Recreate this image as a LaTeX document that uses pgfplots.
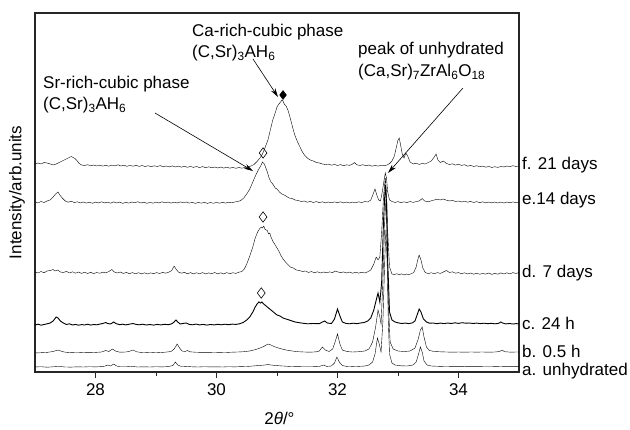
\documentclass[border=0pt]{standalone}
\usepackage{fontspec}
\setmainfont{Liberation Sans}
\usepackage{pgfplots}
\pgfplotsset{compat=1.18}
\usetikzlibrary{arrows.meta,calc}
\begin{document}
\fontsize{17bp}{21bp}\selectfont
\begin{tikzpicture}
\begin{axis}[
  width=484bp, height=359bp, scale only axis,
  xmin=27, xmax=35, ymin=0, ymax=359,
  xtick={28,30,32,34}, minor x tick num=1,
  ytick=\empty,
  xtick pos=bottom, tick align=outside,
  major tick length=6bp, minor tick length=3.5bp,
  axis line style={draw=black!85, line width=1.2bp},
  every tick/.style={black!85, line width=1bp},
  tick label style={font=\fontsize{17bp}{20bp}\selectfont},
  /pgf/number format/assume math mode=true,
  clip=false,
  xlabel={2\textit{θ}/°},
  ylabel={Intensity/arb.units},
  xlabel style={at={(axis description cs:0.505,-0.128)}, anchor=center, font=\fontsize{17bp}{20bp}\selectfont},
  ylabel style={at={(axis description cs:-0.037,0.5)}, anchor=center, font=\fontsize{17bp}{20bp}\selectfont},
  cycle list={{black, no markers, line width=0.9bp, line join=round}},
]
% a. unhydrated
\addplot coordinates {(27.0,5)(27.1,5.3)(27.2,4.8)(27.3,5.2)(27.4,5.6)(27.5,5)(27.6,4.9)(27.7,5.2)(27.8,5)(27.9,5.3)(28.0,5.1)(28.1,5.4)(28.15,5.8)(28.2,7)(28.25,6)(28.3,8)(28.35,6)(28.4,5.3)(28.5,5.2)(28.6,5.6)(28.7,5)(28.8,5.2)(28.9,5)(29.0,5.3)(29.1,5.1)(29.2,5.4)(29.28,6.5)(29.32,10)(29.36,7)(29.42,5.5)(29.5,5.6)(29.6,5.2)(29.7,5)(29.8,5.3)(29.9,5.1)(30.0,5.2)(30.1,5)(30.2,5.3)(30.3,5.1)(30.4,5.4)(30.5,5.5)(30.6,6)(30.7,6.5)(30.8,7)(30.85,7.5)(30.9,7)(31.0,6.4)(31.1,6)(31.2,5.6)(31.3,5.4)(31.4,5.3)(31.5,5.2)(31.6,5.3)(31.7,5.5)(31.77,7)(31.82,5.6)(31.9,6)(31.95,9)(31.99,15)(32.03,10)(32.08,6.5)(32.15,5.6)(32.25,5.4)(32.35,5.6)(32.45,6)(32.52,7)(32.58,10)(32.62,18)(32.66,34)(32.69,28)(32.72,20)(32.75,50)(32.78,110)(32.8,142)(32.82,110)(32.84,50)(32.86,18)(32.9,9)(32.95,7)(33.05,6.2)(33.15,6)(33.25,7)(33.3,10)(33.34,18)(33.37,25)(33.4,20)(33.43,11)(33.48,7)(33.55,6)(33.7,5.6)(33.9,5.4)(34.1,5.3)(34.3,5.4)(34.5,5.2)(34.7,5.5)(34.8,5.3)(35.0,5.4)};
% b. 0.5 h
\addplot coordinates {(27.0,19)(27.1,19.3)(27.2,19.6)(27.3,20.5)(27.38,22)(27.45,20.5)(27.5,19.8)(27.6,19.4)(27.7,19.2)(27.8,19.5)(27.9,19.3)(28.0,19.6)(28.1,20)(28.17,21.5)(28.22,20.5)(28.28,23)(28.33,21)(28.4,19.8)(28.5,20)(28.55,20.5)(28.62,22)(28.68,20.2)(28.75,19.6)(28.85,19.4)(28.95,19.6)(29.05,19.4)(29.15,19.8)(29.25,20.5)(29.3,23)(29.35,28)(29.39,24)(29.43,21)(29.48,20.5)(29.52,21.5)(29.56,20.2)(29.65,19.8)(29.75,19.6)(29.85,19.7)(29.95,19.5)(30.05,19.6)(30.15,19.5)(30.25,19.8)(30.35,20)(30.45,20.3)(30.55,21)(30.65,22.5)(30.72,24)(30.78,25.5)(30.85,28)(30.9,27)(30.95,25.5)(31.05,23.5)(31.15,22)(31.25,21)(31.35,20.3)(31.45,20)(31.55,19.8)(31.65,20.2)(31.7,21)(31.75,25)(31.8,22)(31.86,20.5)(31.92,23)(31.96,30)(32.0,38)(32.04,28)(32.08,22)(32.15,20.5)(32.25,20)(32.35,20.3)(32.45,21)(32.52,23)(32.58,30)(32.63,45)(32.67,62)(32.7,55)(32.72,48)(32.75,90)(32.78,150)(32.8,172)(32.82,140)(32.84,70)(32.87,30)(32.92,23)(33.0,21)(33.1,20.5)(33.2,21)(33.28,24)(33.33,32)(33.37,42)(33.4,45)(33.43,35)(33.47,25)(33.52,21.5)(33.6,20.5)(33.7,20.2)(33.8,20)(33.9,19.8)(34.0,20)(34.1,19.8)(34.2,20)(34.3,19.9)(34.4,20)(34.5,19.8)(34.6,20)(34.68,20.5)(34.72,22)(34.76,20.3)(34.85,19.9)(35.0,20)};
% c. 24 h
\addplot coordinates {(27.0,47)(27.05,47.8)(27.1,46.8)(27.15,47.5)(27.2,48.2)(27.25,49)(27.3,51)(27.35,55)(27.38,54)(27.42,51)(27.47,49)(27.52,47.5)(27.57,48.2)(27.62,47)(27.67,47.6)(27.72,46.8)(27.77,47.4)(27.82,47)(27.87,47.8)(27.92,46.9)(27.97,47.5)(28.02,47.2)(28.07,47.9)(28.12,48.5)(28.17,49.5)(28.2,48.5)(28.25,48)(28.3,50)(28.34,48.4)(28.4,47.3)(28.45,47.8)(28.5,47.1)(28.55,47.7)(28.62,48.5)(28.67,47.6)(28.72,47.2)(28.78,47.8)(28.84,47)(28.9,47.5)(28.96,46.9)(29.02,47.6)(29.08,47.1)(29.14,47.7)(29.2,47.3)(29.26,48.2)(29.3,50)(29.33,52)(29.36,50)(29.4,48)(29.45,48.6)(29.5,49)(29.55,47.6)(29.6,47.2)(29.66,47.9)(29.72,47.1)(29.78,47.6)(29.84,46.9)(29.9,47.5)(29.96,47.1)(30.02,47.7)(30.08,47.2)(30.14,47.8)(30.2,47.3)(30.26,47.9)(30.32,47.6)(30.38,48.2)(30.44,49.5)(30.5,52)(30.55,55)(30.6,60)(30.64,65)(30.67,68)(30.7,70)(30.73,69)(30.75,70)(30.78,68)(30.82,66)(30.86,64)(30.9,62)(30.95,59.5)(31.0,57)(31.05,56)(31.1,54)(31.15,53)(31.2,52)(31.25,51)(31.3,50)(31.4,49)(31.5,48.2)(31.6,48.5)(31.7,48.3)(31.75,50)(31.79,51)(31.83,49)(31.9,48.5)(31.95,53)(32.0,63)(32.04,56)(32.08,50)(32.14,48.6)(32.2,48.2)(32.26,48.8)(32.32,48.3)(32.38,49)(32.44,49.5)(32.5,51)(32.55,54)(32.6,62)(32.64,72)(32.67,79)(32.7,70)(32.73,90)(32.76,150)(32.79,187)(32.81,170)(32.83,110)(32.86,60)(32.9,52)(32.95,50)(33.0,49.2)(33.06,48.5)(33.12,48.9)(33.18,48.4)(33.24,49.2)(33.28,51)(33.31,56)(33.35,63)(33.38,60)(33.42,53)(33.47,50)(33.52,48.8)(33.58,49)(33.64,48.3)(33.7,48.9)(33.76,48.4)(33.82,49)(33.88,48.5)(33.94,49.2)(34.0,48.6)(34.06,49.3)(34.12,48.8)(34.18,49)(34.24,48.5)(34.3,48.9)(34.36,48.4)(34.42,48.8)(34.48,48.3)(34.54,48.7)(34.6,48.2)(34.66,48.6)(34.7,50)(34.73,49)(34.78,48.1)(34.84,48.5)(34.9,48)(34.96,48.4)(35.0,48)};
% d. 7 days
\addplot coordinates {(27.0,100)(27.05,99)(27.1,100.5)(27.15,99.2)(27.2,101)(27.25,101.5)(27.3,102.5)(27.33,101)(27.38,102)(27.42,100)(27.47,99.5)(27.52,100.6)(27.57,99)(27.62,100.2)(27.67,98.8)(27.72,100)(27.77,98.6)(27.82,99.8)(27.87,98.5)(27.92,99.7)(27.97,98.4)(28.02,99.5)(28.07,98.7)(28.12,99.9)(28.17,99.1)(28.22,100.5)(28.27,102.5)(28.31,100)(28.36,99)(28.41,100)(28.46,98.5)(28.51,99.6)(28.56,98.3)(28.61,99.4)(28.66,98.2)(28.71,99.3)(28.76,98.1)(28.81,99.2)(28.86,98)(28.91,99.1)(28.96,98.3)(29.01,99.4)(29.06,98.5)(29.11,99.6)(29.16,98.8)(29.21,99.8)(29.26,101.5)(29.3,106)(29.33,103)(29.37,100)(29.42,98.8)(29.47,99.7)(29.52,98.2)(29.57,99.4)(29.62,98)(29.67,99.3)(29.72,98.1)(29.77,99.4)(29.82,98)(29.87,99.1)(29.92,98.3)(29.97,99.5)(30.02,98.1)(30.07,99.2)(30.12,98)(30.17,99.4)(30.22,98.2)(30.27,99.3)(30.32,98.6)(30.37,99.8)(30.42,100.5)(30.46,103)(30.5,108)(30.55,116)(30.6,125)(30.64,134)(30.68,140)(30.71,143)(30.74,145)(30.76,144)(30.78,146)(30.8,143)(30.82,142)(30.84,141.5)(30.86,138)(30.88,139)(30.9,135)(30.93,131)(30.96,128)(31.0,124)(31.03,121)(31.06,117)(31.1,113)(31.14,110)(31.18,107.5)(31.22,105)(31.27,104)(31.32,102)(31.37,101.5)(31.42,100.5)(31.47,101)(31.52,99.6)(31.57,100.4)(31.62,99.3)(31.67,100.2)(31.72,99)(31.77,100)(31.82,99.2)(31.87,100.1)(31.92,99.4)(31.96,101)(32.0,100.2)(32.05,99.3)(32.1,100.1)(32.15,99)(32.2,99.9)(32.25,98.8)(32.3,99.8)(32.35,98.9)(32.4,99.7)(32.45,99)(32.5,100.2)(32.55,102)(32.6,108)(32.64,115)(32.67,112)(32.7,115)(32.73,140)(32.76,175)(32.79,194)(32.81,180)(32.83,140)(32.86,105)(32.9,98)(32.94,97.5)(32.98,98.3)(33.02,97.2)(33.06,98.2)(33.1,97)(33.14,98)(33.18,97.4)(33.22,98.3)(33.26,99.5)(33.3,105)(33.33,113)(33.35,117)(33.38,112)(33.41,104)(33.45,99.5)(33.5,98.4)(33.55,99.3)(33.6,98.2)(33.65,99.4)(33.7,98.6)(33.75,100)(33.8,101.5)(33.85,99.5)(33.9,100.2)(33.95,98.8)(34.0,99.4)(34.05,98.3)(34.1,99.2)(34.15,98)(34.2,99)(34.25,97.8)(34.3,98.8)(34.35,97.7)(34.4,98.6)(34.45,97.9)(34.5,99)(34.55,97.6)(34.6,98.7)(34.65,97.8)(34.7,99.1)(34.75,98)(34.8,99.2)(34.85,98.1)(34.9,99.4)(34.95,98.5)(35.0,99.5)};
% e. 14 days
\addplot coordinates {(27.0,170)(27.05,169)(27.1,170.5)(27.15,169.5)(27.2,171)(27.25,172)(27.3,175)(27.34,178)(27.38,180)(27.41,177)(27.45,174)(27.5,171)(27.55,169.8)(27.6,170.8)(27.65,169.4)(27.7,170.2)(27.75,169.1)(27.8,170)(27.85,168.9)(27.9,169.8)(27.95,168.7)(28.0,169.9)(28.05,169)(28.1,170.2)(28.15,169.1)(28.2,169.8)(28.25,168.8)(28.3,170.1)(28.35,169)(28.4,169.9)(28.45,168.6)(28.5,169.7)(28.55,168.9)(28.6,170)(28.65,169.2)(28.7,170.3)(28.75,169)(28.8,169.8)(28.85,168.7)(28.9,169.6)(28.95,168.8)(29.0,169.9)(29.05,169)(29.1,170.2)(29.15,169.1)(29.2,170)(29.25,168.9)(29.3,169.8)(29.35,169)(29.4,170.1)(29.45,169.2)(29.5,170)(29.55,168.9)(29.6,169.7)(29.65,168.6)(29.7,169.6)(29.75,168.8)(29.8,169.7)(29.85,168.6)(29.9,169.5)(29.95,168.7)(30.0,169.6)(30.05,168.8)(30.1,169.7)(30.15,168.9)(30.2,169.8)(30.25,169.2)(30.3,170)(30.35,170.5)(30.4,171.5)(30.45,174)(30.5,178)(30.55,183)(30.6,190)(30.65,197)(30.7,203)(30.73,206)(30.76,210)(30.79,208)(30.81,205)(30.84,200)(30.87,194)(30.9,190)(30.93,188)(30.97,184)(31.0,183)(31.04,180)(31.08,178)(31.12,177)(31.16,175.5)(31.2,174)(31.25,173.5)(31.3,172)(31.35,171.5)(31.4,170.5)(31.45,171)(31.5,169.8)(31.55,170.6)(31.6,169.5)(31.65,170.4)(31.7,169.3)(31.75,170.2)(31.8,169.1)(31.85,170)(31.9,169.2)(31.95,170.1)(32.0,169.3)(32.05,170.2)(32.1,169.1)(32.15,170)(32.2,169)(32.25,169.9)(32.3,169.2)(32.35,170.2)(32.4,169.4)(32.45,170.5)(32.5,170)(32.55,172)(32.59,178)(32.62,183)(32.65,177)(32.68,172)(32.71,171)(32.74,180)(32.77,192)(32.79,199)(32.81,194)(32.83,180)(32.86,172)(32.9,170.5)(32.95,169.5)(33.0,170.4)(33.05,169.3)(33.1,170.2)(33.15,169.4)(33.2,170.5)(33.25,169.6)(33.3,170.4)(33.35,171)(33.4,173.5)(33.44,171)(33.5,170.2)(33.55,171.2)(33.6,172)(33.65,172.8)(33.7,172)(33.75,173)(33.8,171.8)(33.85,171)(33.9,171.6)(33.95,170.5)(34.0,171)(34.05,170)(34.1,170.8)(34.15,169.8)(34.2,170.6)(34.25,169.5)(34.3,170.4)(34.35,169.3)(34.4,170.2)(34.45,169.2)(34.5,170)(34.55,169.1)(34.6,170)(34.65,169)(34.7,169.9)(34.75,169)(34.8,170)(34.85,169.2)(34.9,170.1)(34.95,169.3)(35.0,170)};
% f. 21 days
\addplot coordinates {(27.0,208)(27.05,209)(27.1,208)(27.15,209.5)(27.2,209)(27.25,208)(27.3,207)(27.35,208)(27.4,209.5)(27.45,211)(27.5,212.5)(27.55,214)(27.6,215.5)(27.63,214.5)(27.67,213)(27.7,211)(27.73,208.5)(27.77,207)(27.82,206.5)(27.87,207.3)(27.92,206.2)(27.97,207)(28.02,206)(28.07,206.8)(28.12,205.9)(28.17,206.7)(28.22,205.8)(28.27,206.9)(28.32,206.1)(28.37,207.2)(28.42,206)(28.47,206.8)(28.52,205.7)(28.57,206.6)(28.62,205.8)(28.67,206.7)(28.72,205.6)(28.77,206.5)(28.82,205.4)(28.87,206.3)(28.92,205.3)(28.97,206.2)(29.02,205.5)(29.07,206.4)(29.12,205.2)(29.17,206)(29.22,205.1)(29.27,206.1)(29.32,205)(29.37,205.9)(29.42,204.8)(29.47,205.8)(29.52,204.7)(29.57,205.6)(29.62,204.6)(29.67,205.5)(29.72,204.4)(29.77,205.4)(29.82,204.3)(29.87,205.2)(29.92,204.2)(29.97,205)(30.02,204)(30.07,205)(30.12,203.9)(30.17,204.8)(30.22,203.8)(30.27,204.6)(30.32,203.7)(30.37,204.5)(30.42,203.8)(30.47,204.6)(30.52,205)(30.57,206)(30.62,207.5)(30.67,210.5)(30.72,214)(30.76,218)(30.8,224)(30.85,232)(30.89,242)(30.93,252)(30.97,259)(31.0,265)(31.03,268)(31.06,270)(31.08,272)(31.1,271)(31.12,268)(31.15,266)(31.18,262)(31.21,256)(31.24,249)(31.27,242)(31.3,236)(31.34,230)(31.38,225)(31.42,220)(31.46,216.5)(31.5,214)(31.55,212)(31.6,211)(31.65,209.5)(31.7,209)(31.75,208)(31.8,207.5)(31.85,207.9)(31.9,206.8)(31.95,207.6)(32.0,206.5)(32.05,207.4)(32.1,206.3)(32.15,207.2)(32.2,206.6)(32.25,208)(32.28,209.5)(32.32,207.2)(32.37,206.5)(32.42,207.3)(32.47,206.2)(32.52,207)(32.57,205.8)(32.62,206.6)(32.67,205.9)(32.72,206.8)(32.77,206.2)(32.82,207)(32.86,208.5)(32.9,211)(32.94,216)(32.97,224)(33.0,232)(33.02,234)(33.04,228)(33.07,218)(33.1,214)(33.13,219)(33.16,216)(33.2,210)(33.25,208)(33.3,208.8)(33.35,207.6)(33.4,208.6)(33.45,208)(33.5,209.5)(33.55,211)(33.6,215)(33.63,218)(33.66,212)(33.7,209.5)(33.75,211)(33.8,208.5)(33.85,207.5)(33.9,208.2)(33.95,206.9)(34.0,207.7)(34.05,206.6)(34.1,207.3)(34.15,205.8)(34.2,206.6)(34.25,205.5)(34.3,206.3)(34.35,205.2)(34.4,206)(34.45,204.8)(34.5,205.6)(34.55,204.5)(34.6,205.3)(34.65,204.6)(34.7,205.5)(34.75,205)(34.8,206)(34.85,205.4)(34.9,206.3)(34.95,205.5)(35.0,206)};
% diamonds
\addplot[only marks, mark=diamond, mark size=5.2bp, mark options={black, line width=0.6bp, fill=white}] coordinates {(30.74,79)(30.77,155)(30.77,219)};
\addplot[only marks, mark=diamond*, mark size=4.5bp, mark options={black, fill=black}] coordinates {(31.10,277)};
% curve labels
\node[anchor=west, inner sep=0pt] at (axis cs:35.05,207) {f. 21 days};
\node[anchor=west, inner sep=0pt] at (axis cs:35.05,172) {e.14 days};
\node[anchor=west, inner sep=0pt] at (axis cs:35.05,99) {d. 7 days};
\node[anchor=west, inner sep=0pt] at (axis cs:35.05,49) {c. 24 h};
\node[anchor=west, inner sep=0pt] at (axis cs:35.05,21) {b. 0.5 h};
\node[anchor=west, inner sep=0pt] at (axis cs:35.05,1) {a. unhydrated};
% annotations
\node[anchor=base west, inner sep=0pt] at (axis cs:29.595,335) {Ca-rich-cubic phase};
\node[anchor=base west, inner sep=0pt] at (axis cs:29.595,314) {(C,Sr)\textsubscript{3}AH\textsubscript{6}};
\node[anchor=base west, inner sep=0pt] at (axis cs:27.132,283) {Sr-rich-cubic phase};
\node[anchor=base west, inner sep=0pt] at (axis cs:27.132,262) {(C,Sr)\textsubscript{3}AH\textsubscript{6}};
\node[anchor=base west, inner sep=0pt] at (axis cs:32.339,317) {peak of unhydrated};
\node[anchor=base west, inner sep=0pt] at (axis cs:32.339,295) {(Ca,Sr)\textsubscript{7}ZrAl\textsubscript{6}O\textsubscript{18}};
\draw[black, line width=0.6bp, -{Stealth[length=9bp,width=5bp]}] (axis cs:30.603,313) -- (axis cs:31.017,275);
\draw[black, line width=0.6bp, -{Stealth[length=9bp,width=5bp]}] (axis cs:28.983,259) -- (axis cs:30.603,201);
\draw[black, line width=0.6bp, -{Stealth[length=9bp,width=5bp]}] (axis cs:34.074,284) -- (axis cs:32.835,199);
\end{axis}
\path ($(current axis.south west)+(-35bp,-56bp)$) rectangle ($(current axis.north east)+(111bp,13bp)$);
\end{tikzpicture}
\end{document}
